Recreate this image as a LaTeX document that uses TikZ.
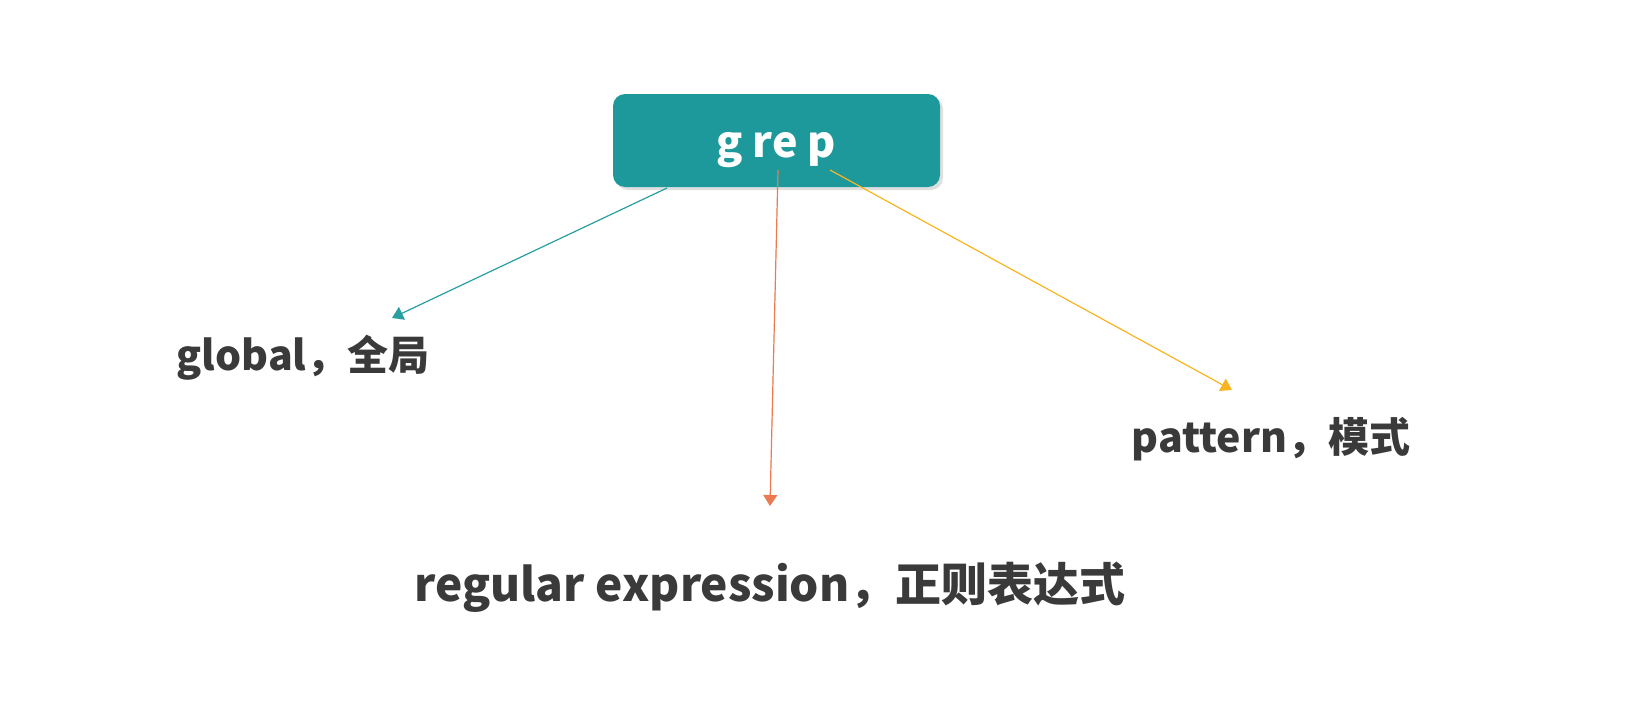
\documentclass[tikz,border=0pt]{standalone}
\usepackage{fontspec}
\setmainfont{Noto Sans CJK SC}
\usetikzlibrary{arrows.meta,shadows}
\definecolor{tealbox}{HTML}{1E999B}
\definecolor{tealline}{HTML}{2A9FA1}
\definecolor{orangeline}{HTML}{EC7A50}
\definecolor{yellowline}{HTML}{F8B521}
\definecolor{txt}{HTML}{3A3A3A}
\tikzset{
  rootbox/.style={fill=tealbox, rounded corners=12pt, minimum width=327pt, minimum height=93pt,
    inner sep=0pt, drop shadow={opacity=0.25, shadow xshift=3pt, shadow yshift=-3pt}},
  leaf/.style={text=txt, font=\bfseries\fontsize{41}{44}\selectfont, anchor=base, inner sep=0pt},
  conn/.style={line width=1.2pt, -{Triangle[length=11pt,width=14pt]}},
}
\begin{document}
\begin{tikzpicture}[x=1pt,y=-1pt]
\useasboundingbox (0,0) rectangle (1642,704);
\node[rootbox] (grep) at (776.5,140.5) {};
\node[text=white, font=\bfseries\fontsize{43}{46}\selectfont, anchor=base, inner sep=0pt] (greptxt) at (776,157) {g re p};
\node[leaf] (global) at (303,370) {global，全局};
\node[leaf] (pattern) at (1271,452) {pattern，模式};
\node[leaf, font=\bfseries\fontsize{46}{50}\selectfont] (regex) at (770,601) {regular expression，正则表达式};
\coordinate (s1) at (667,188);
\coordinate (t1) at (392,318);
\coordinate (s2) at (778,170);
\coordinate (t2) at (770,506);
\coordinate (s3) at (830,170);
\coordinate (t3) at (1232,390);
\draw[conn, draw=tealline, fill=tealline] (s1) -- (t1);
\draw[conn, draw=orangeline, fill=orangeline] (s2) -- (t2);
\draw[conn, draw=yellowline, fill=yellowline] (s3) -- (t3);
\end{tikzpicture}
\end{document}
